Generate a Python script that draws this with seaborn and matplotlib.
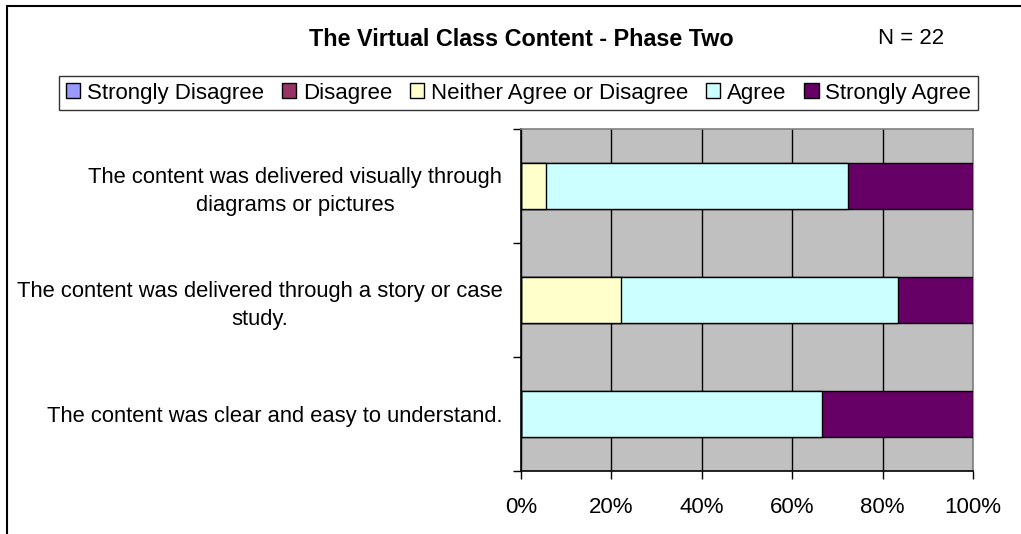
import matplotlib
matplotlib.use("Agg")
import matplotlib.pyplot as plt
from matplotlib.patches import Patch
from matplotlib.ticker import FixedLocator, FuncFormatter
import seaborn as sns
import pandas as pd
import numpy as np

categories = [
    "The content was delivered visually through\ndiagrams or pictures",
    "The content was delivered through a story or case\nstudy.",
    "The content was clear and easy to understand.",
]
series_names = ["Strongly Disagree", "Disagree", "Neither Agree or Disagree", "Agree", "Strongly Agree"]
strongly_disagree = [0.0, 0.0, 0.0]
disagree = [0.0, 0.0, 0.0]
neither = [5.6, 22.2, 0.0]
agree = [66.7, 61.1, 66.7]
strongly_agree = [27.8, 16.7, 33.3]
colors = ["#9999FF", "#993366", "#FFFFCC", "#CCFFFF", "#660066"]
x_ticks = [0, 20, 40, 60, 80, 100]

sns.set_theme(style="white")
plt.rcParams["font.family"] = ["Liberation Sans", "DejaVu Sans"]
plt.rcParams["text.color"] = "black"
plt.rcParams["xtick.color"] = "black"
plt.rcParams["ytick.color"] = "black"
plt.rcParams["xtick.labelcolor"] = "black"
plt.rcParams["ytick.labelcolor"] = "black"

fig = plt.figure(figsize=(10.21, 5.34), dpi=100)
ax = fig.add_axes([521 / 1021, 1 - 471 / 534, 452 / 1021, 342 / 534])
ax.set_facecolor("#C0C0C0")

values = [strongly_disagree, disagree, neither, agree, strongly_agree]
cum = np.cumsum(np.array(values), axis=0)
# draw from the last cumulative layer to the first so smaller layers overlay
for i in range(len(series_names) - 1, -1, -1):
    df = pd.DataFrame({"cat": categories, "val": cum[i]})
    sns.barplot(data=df, x="val", y="cat", orient="h", color=colors[i],
                saturation=1, width=0.4, edgecolor="black", linewidth=1.0, ax=ax, zorder=3)

ax.set_xlim(0, 100)
ax.set_ylim(2.5, -0.5)
ax.xaxis.set_major_locator(FixedLocator(x_ticks))
ax.xaxis.set_major_formatter(FuncFormatter(lambda v, p: f"{int(v)}%"))
ax.grid(axis="x", color="black", linewidth=1.0, zorder=0)
ax.set_axisbelow(True)
ax.set_xlabel("")
ax.set_ylabel("")

ax.tick_params(axis="x", which="major", direction="out", length=6, width=1, color="black",
               labelsize=16, pad=13, bottom=True, labelcolor="black")
ax.tick_params(axis="y", which="major", length=0, labelsize=15.8, pad=13.5, labelcolor="black")
ax.yaxis.set_minor_locator(FixedLocator([-0.5, 0.5, 1.5, 2.5]))
ax.tick_params(axis="y", which="minor", direction="out", length=6, width=1, color="black", left=True)
for lab in ax.get_yticklabels():
    lab.set_multialignment("center")
    lab.set_linespacing(1.4)

for side in ["left", "bottom"]:
    ax.spines[side].set_color("black")
    ax.spines[side].set_linewidth(1.2)
for side in ["top", "right"]:
    ax.spines[side].set_color("#808080")
    ax.spines[side].set_linewidth(1.2)

# title and N
fig.text(521 / 1021, 1 - 39 / 534, "The Virtual Class Content - Phase Two", ha="center", va="center",
         fontsize=16.8, fontweight="bold", color="black")
fig.text(911 / 1021, 1 - 39 / 534, "N = 22", ha="center", va="center", fontsize=16, color="black")

# legend
handles = [Patch(facecolor=c, edgecolor="black", linewidth=1.0, label=n) for c, n in zip(colors, series_names)]
leg = fig.legend(handles=handles, loc="center", bbox_to_anchor=(518.5 / 1021, 1 - 93 / 534), ncol=5,
                 fontsize=16, frameon=True, fancybox=False, edgecolor="black",
                 handlelength=0.65, handleheight=0.65, handletextpad=0.3, columnspacing=0.8,
                 borderpad=0.3, borderaxespad=0)
leg.get_frame().set_linewidth(1.0)
for t in leg.get_texts():
    t.set_color("black")

# outer chart border (top and left visible)
fig.add_artist(plt.Line2D([7 / 1021, 1.0], [1 - 6 / 534, 1 - 6 / 534], color="black", linewidth=1.5))
fig.add_artist(plt.Line2D([7 / 1021, 7 / 1021], [0.0, 1 - 6 / 534], color="black", linewidth=1.5))

fig.savefig("out.png", dpi=100)
